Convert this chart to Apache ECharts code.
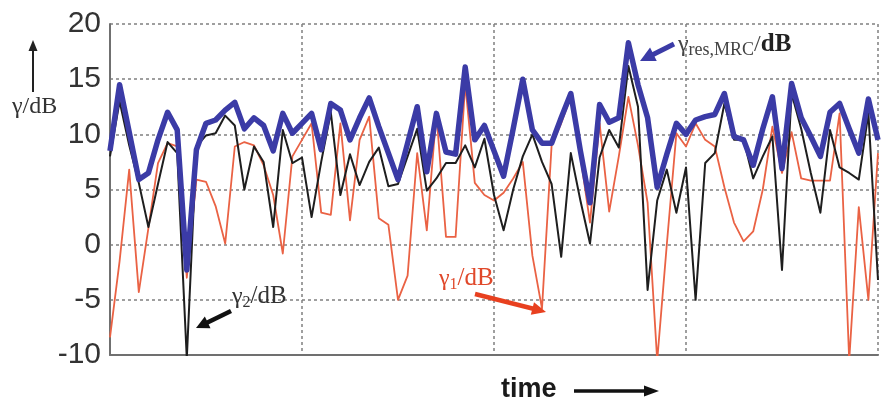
<!DOCTYPE html>
<html><head><meta charset="utf-8">
<script src="https://cdn.jsdelivr.net/npm/echarts@6/dist/echarts.min.js"></script>
<style>html,body{margin:0;padding:0;background:#fff}#c{width:892px;height:405px}</style>
</head><body><div id="c"></div>
<script>
// y axis ticks (dB)
const yTicks = [-10, -5, 0, 5, 10, 15, 20];
// gamma_res,MRC / dB  (thick blue)
const gammaRes = [8.5, 14.5, 10.2, 5.9, 6.5, 9.5, 12.0, 10.4, -2.3, 8.6,
  11.0, 11.3, 12.2, 12.9, 10.5, 11.5, 10.8, 8.5, 11.9, 10.1,
  11.0, 11.9, 8.6, 12.8, 12.2, 9.5, 11.5, 13.3, 10.7, 8.3,
  5.9, 9.2, 12.5, 6.6, 11.9, 8.4, 8.2, 16.1, 9.5, 10.8,
  8.5, 6.2, 10.5, 15.0, 10.4, 9.2, 9.2, 11.5, 13.7, 8.5,
  3.8, 12.7, 11.1, 11.5, 18.3, 14.5, 11.5, 5.2, 8.2, 11.0,
  10.0, 11.3, 11.6, 11.8, 13.7, 9.8, 9.5, 7.2, 10.5, 13.4,
  6.9, 14.6, 11.5, 9.8, 8.0, 12.0, 12.8, 10.5, 8.3, 13.2, 9.5];
// gamma_2 / dB (black)
const gamma2 = [8.0, 13.0, 9.0, 5.6, 1.6, 5.5, 9.3, 8.3, -10.3, 8.9,
  9.9, 10.1, 11.7, 10.8, 5.0, 8.9, 7.5, 1.6, 10.4, 7.4,
  7.9, 2.5, 7.5, 12.0, 4.5, 8.2, 5.4, 7.5, 8.8, 5.3,
  5.5, 8.0, 10.5, 4.9, 6.0, 7.4, 7.4, 9.0, 7.0, 9.6,
  4.5, 1.3, 5.0, 8.0, 10.0, 7.5, 5.5, -1.1, 8.3, 4.0,
  0.1, 7.9, 10.4, 8.8, 16.2, 12.5, -4.1, 4.0, 6.8, 2.9,
  7.0, -5.0, 7.4, 8.3, 12.8, 9.5, 9.5, 6.0, 8.0, 9.8,
  -2.3, 13.7, 10.5, 6.5, 2.9, 10.4, 7.0, 6.5, 5.9, 11.9, -3.2];
// gamma_1 / dB (red)
const gamma1 = [-8.4, -1.5, 6.8, -4.3, 1.5, 7.4, 9.2, 8.9, -3.0, 5.9,
  5.7, 3.5, 0.1, 8.9, 9.3, 9.0, 7.2, 4.5, -0.8, 8.0,
  9.5, 11.0, 2.9, 2.7, 11.0, 2.2, 9.5, 11.6, 2.4, 1.8,
  -5.0, -2.8, 8.3, 1.3, 11.9, 0.7, 0.7, 14.6, 5.6, 4.5,
  4.0, 4.7, 6.0, 7.5, -1.0, -5.8, 9.0, 11.0, 13.4, 8.0,
  2.0, 11.0, 3.0, 8.0, 13.4, 9.0, 3.8, -10.5, 0.0, 10.1,
  8.9, 11.0, 9.5, 8.9, 5.2, 2.0, 0.3, 1.2, 5.0, 10.7,
  6.5, 10.2, 6.0, 5.8, 5.8, 5.8, 11.9, -10.5, 3.4, -5.0, 8.3];
const samples = gammaRes.map((_, i) => i);

const mctx = document.createElement('canvas').getContext('2d');
function measure(t, font) { mctx.font = font; return mctx.measureText(t).width; }

function arrow(x1, y1, x2, y2, color, w, hl, hw) {
  const dx = x2 - x1, dy = y2 - y1, L = Math.hypot(dx, dy), ux = dx / L, uy = dy / L;
  const bx = x2 - ux * hl, by = y2 - uy * hl, px = -uy, py = ux;
  return [
    {type: 'line', z: 100, shape: {x1: x1, y1: y1, x2: bx + ux * 2, y2: by + uy * 2}, style: {stroke: color, lineWidth: w}},
    {type: 'polygon', z: 100, shape: {points: [[x2, y2], [bx + px * hw / 2, by + py * hw / 2], [bx - px * hw / 2, by - py * hw / 2]]}, style: {fill: color}}
  ];
}
// parts: [text, font, dy, color]
function label(x, y, parts) {
  const out = [];
  let cx = x;
  parts.forEach(p => {
    out.push({type: 'text', z: 100, x: cx, y: y + (p[2] || 0),
      style: {text: p[0], font: p[1], fill: p[3], textVerticalAlign: 'middle'}});
    cx += measure(p[0], p[1]);
  });
  return out;
}
const serif = '"Liberation Serif", "DejaVu Serif", serif';
const gridDash = {color: '#808080', width: 1.5, type: [3, 3]};

const chart = echarts.init(document.getElementById('c'), null, {renderer: 'canvas'});
chart.setOption({
  animation: false,
  backgroundColor: '#fff',
  grid: {left: 110, right: 14, top: 24, bottom: 50, containLabel: false},
  xAxis: {
    type: 'value', min: 0, max: samples.length - 1, interval: 20,
    axisLine: {show: true, onZero: false, lineStyle: {color: '#707070', width: 2}},
    axisTick: {show: false}, axisLabel: {show: false},
    splitLine: {show: true, showMinLine: true, showMaxLine: true, lineStyle: gridDash}
  },
  yAxis: {
    type: 'value', min: yTicks[0], max: yTicks[yTicks.length - 1], interval: 5,
    axisLine: {show: true, onZero: false, lineStyle: {color: '#707070', width: 2}},
    axisTick: {show: false},
    axisLabel: {show: true, fontSize: 30, color: '#333', margin: 9,
      fontFamily: '"Liberation Sans", Arial, sans-serif'},
    splitLine: {show: true, showMinLine: true, showMaxLine: true, lineStyle: gridDash}
  },
  series: [
    {name: 'γ1/dB', type: 'line', z: 2, symbol: 'none', clip: true,
      data: samples.map((t, i) => [t, gamma1[i]]),
      lineStyle: {color: '#ea6244', width: 1.8, join: 'round'}},
    {name: 'γ2/dB', type: 'line', z: 3, symbol: 'none', clip: true,
      data: samples.map((t, i) => [t, gamma2[i]]),
      lineStyle: {color: '#1e1e1e', width: 2, join: 'round'}},
    {name: 'γres,MRC/dB', type: 'line', z: 4, symbol: 'none', clip: true,
      data: samples.map((t, i) => [t, gammaRes[i]]),
      lineStyle: {color: '#3b3ba6', width: 5.5, join: 'round'}}
  ],
  graphic: [].concat(
    // y-axis label
    arrow(33, 92, 33, 40, '#222', 2, 11, 9),
    label(12, 107, [['γ', '24px ' + serif, 0, '#333'], ['/dB', '24px ' + serif, 0, '#333']]),
    // x-axis label
    [{type: 'text', z: 100, x: 501, y: 390,
      style: {text: 'time', font: 'bold 27px "Liberation Sans", Arial, sans-serif', fill: '#1a1a1a', textVerticalAlign: 'middle'}}],
    arrow(574, 391, 659, 391, '#111', 3.5, 15, 11),
    // gamma_res,MRC annotation
    arrow(674, 44, 640, 61, '#3b3ba6', 5, 15, 15),
    label(678, 45, [['γ', '24px ' + serif, 0, '#444'], ['res,MRC', '18px ' + serif, 5, '#444'],
      ['/', '24px ' + serif, 0, '#444'], ['dB', 'bold 25px ' + serif, 0, '#222']]),
    // gamma_2 annotation
    arrow(231, 311, 196, 328, '#111', 4.5, 13, 13),
    label(232, 297, [['γ', '24px ' + serif, 0, '#333'], ['2', '16px ' + serif, 6, '#333'],
      ['/dB', '25px ' + serif, -1, '#333']]),
    // gamma_1 annotation
    arrow(475, 294, 546, 312, '#e8401f', 4.5, 14, 13),
    label(439, 279, [['γ', '24px ' + serif, 0, '#e0482a'], ['1', '16px ' + serif, 6, '#e0482a'],
      ['/dB', '25px ' + serif, -1, '#e0482a']])
  )
});
</script></body></html>
